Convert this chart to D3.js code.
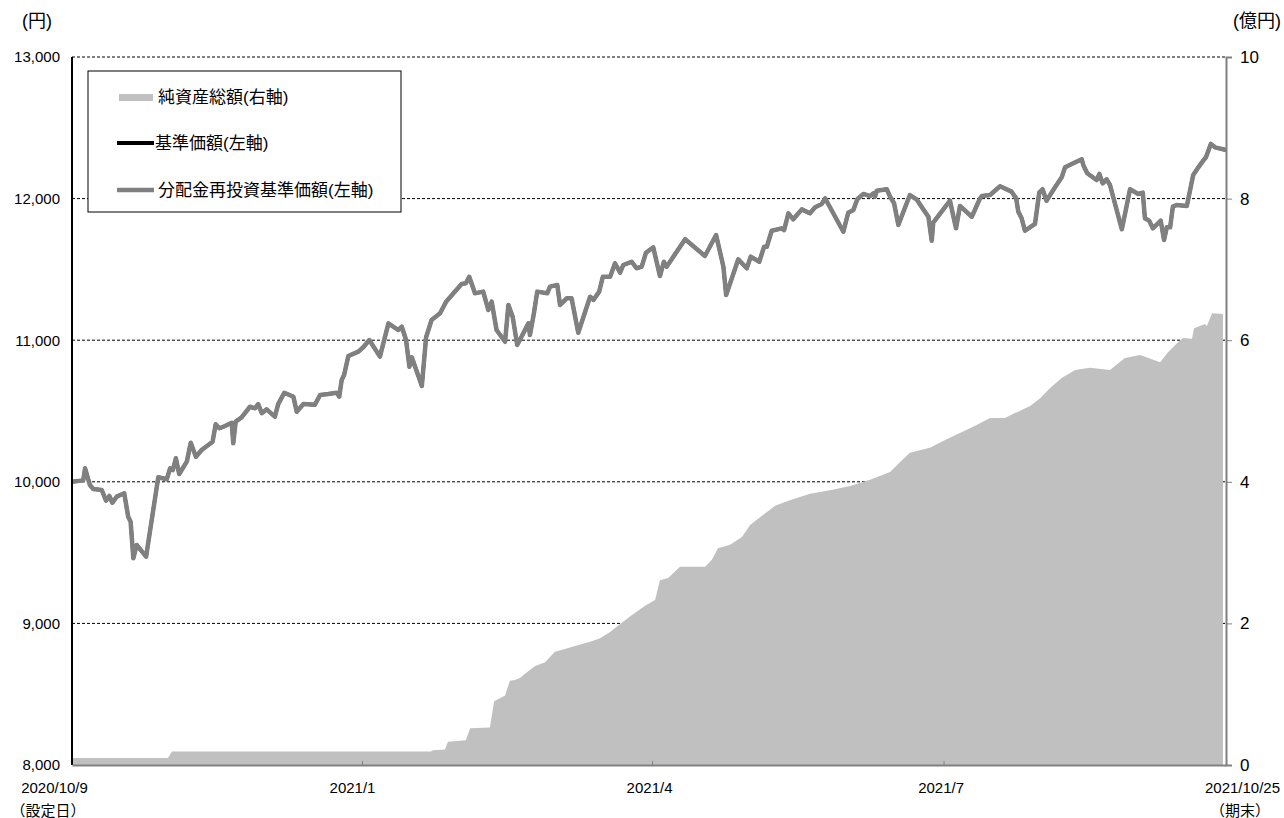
<!DOCTYPE html>
<html>
<head>
<meta charset="utf-8">
<script src="https://cdn.jsdelivr.net/npm/d3@7"></script>
<style>
  body { margin: 0; background: #fff; }
  text { font-family: "Liberation Sans", Arial, "Noto Sans CJK JP", sans-serif; fill: #000; }
</style>
</head>
<body>
<div class="chart"></div>
<script>
// dimensions
var svgWidth = 1284;
var svgHeight = 818;

var margin = {
  top: 57,
  right: 58,
  bottom: 53,
  left: 72
};

var width = svgWidth - margin.left - margin.right;
var height = svgHeight - margin.top - margin.bottom;

// data (x = business day count since launch)
var navDay = [0, 3.7, 4.3, 5.9, 7.0, 9.8, 11.2, 12.3, 13.3, 14.7, 17.2, 18.5, 19.3, 20.2, 21.3, 24.4,
  28.4, 31.2, 32.3, 33.2, 34.2, 35.3, 37.8, 39.1, 40.8, 42.7, 46.3, 47.3, 48.5, 50.4, 52.6, 53.1,
  53.9, 55.9, 58.6, 60.3, 61.3, 62.5, 64.1, 66.8, 67.9, 69.9, 72.9, 74.0, 76.2, 80.0, 81.7, 84.4,
  87.2, 88.0, 88.8, 89.6, 91.0, 94.3, 95.9, 97.9, 101.4, 104.2, 107.4, 108.6, 110.0, 111.1, 111.9,
  115.2, 116.6, 118.4, 121.2, 123.2, 125.6, 128.3, 129.7, 130.8, 132.7, 135.4, 137.1, 138.2, 139.8,
  142.6, 143.7, 145.1, 146.6, 150.3, 150.8, 152.1, 153.2, 156.5, 157.4, 159.8, 160.7, 162.9, 164.5,
  166.7, 170.6, 171.7, 173.6, 174.8, 177.2, 178.8, 180.5, 181.5, 184.3, 185.9, 187.6, 189.0, 191.4,
  193.6, 194.9, 195.8, 201.9, 208.4, 212.1, 214.5, 215.4, 219.4, 222.2, 223.5, 226.3, 227.9, 228.8,
  230.4, 233.7, 234.5, 235.9, 237.5, 240.3, 243.0, 244.7, 246.9, 248.0, 249.6, 254.0, 255.6, 257.3,
  258.6, 260.6, 262.8, 263.9, 264.4, 265.0, 268.3, 269.4, 270.7, 272.1, 275.9, 278.1, 280.3, 282.0,
  283.1, 283.6, 289.1, 291.1, 292.4, 296.3, 299.0, 299.6, 302.3, 305.6, 309.4, 310.9, 311.6, 312.7,
  313.8, 317.1, 318.5, 319.6, 320.9, 323.7, 325.9, 327.0, 329.2, 332.5, 333.0, 334.3, 337.4, 338.3,
  339.4, 340.7, 341.8, 345.7, 348.4, 351.1, 352.6, 353.3, 354.7, 355.9, 358.5, 359.6, 360.5, 361.6,
  362.5, 363.8, 367.1, 369.2, 370.9, 372.5, 373.4, 375.0, 376.4, 380];

var navValue = [10000, 10010, 10095, 9977, 9949, 9942, 9867, 9900, 9852, 9895, 9919, 9754, 9718, 9460, 9554, 9471,
  10032, 10018, 10095, 10083, 10166, 10055, 10142, 10276, 10177, 10225, 10283, 10406, 10378, 10394, 10417, 10272,
  10425, 10456, 10530, 10519, 10549, 10484, 10512, 10460, 10549, 10629, 10601, 10495, 10549, 10545, 10613, 10620,
  10629, 10601, 10719, 10754, 10888, 10919, 10950, 11001, 10884, 11119, 11072, 11095, 11001, 10813, 10879,
  10677, 11021, 11143, 11190, 11272, 11331, 11397, 11402, 11448, 11331, 11343, 11213, 11272, 11072,
  10989, 11249, 11166, 10966, 11119, 11037, 11190, 11343, 11331, 11378, 11390, 11249, 11296, 11296,
  11053, 11307, 11284, 11343, 11448, 11448, 11543, 11477, 11531, 11554, 11508, 11519, 11618, 11656,
  11453, 11554, 11519, 11713, 11595, 11743, 11519, 11319, 11571, 11508, 11590, 11554, 11660, 11660,
  11773, 11790, 11778, 11896, 11854, 11924, 11896, 11939, 11962, 12002, 11939, 11766, 11900, 11920,
  11995, 12033, 12018, 12037, 12013, 12056, 12066, 12013, 11967, 11814, 12025, 11995, 11924, 11872,
  11703, 11830, 11985, 11790, 11948, 11872, 12002, 12018, 12025, 12087, 12049, 12002, 11908, 11861,
  11773, 11821, 12042, 12066, 11985, 12080, 12150, 12221, 12244, 12278, 12237, 12179, 12131, 12174,
  12108, 12136, 12096, 11783, 12066, 12033, 12042, 11861, 11844, 11790, 11844, 11708, 11797, 11797,
  11943, 11955, 11948, 12167, 12221, 12268, 12292, 12386, 12362, 12343];

// 純資産総額 (億円)
var aumDay = [0, 31.6, 32.9, 118.2, 118.9, 122.8, 123.8, 129.7, 131.1, 137.6, 139.0, 142.6, 144.2, 145.9,
  147.5, 149.8, 152.5, 155.8, 159.0, 162.3, 165.6, 170.6, 173.9, 177.2, 180.5, 184.4, 188.7, 192.0,
  193.6, 196.3, 200.2, 208.5, 210.7, 212.7, 216.7, 220.6, 223.3, 227.2, 231.5, 236.4, 243.0, 249.6,
  256.2, 262.8, 269.4, 272.7, 275.9, 282.5, 287.5, 292.4, 297.4, 302.3, 307.2, 310.5, 315.5, 318.8,
  322.0, 326.0, 330.3, 335.2, 341.8, 346.7, 351.7, 358.3, 360.9, 364.2, 365.8, 368.8, 369.5, 373.1,
  373.7, 375.4, 379];
var aumValue = [0.10, 0.10, 0.19, 0.19, 0.21, 0.22, 0.33, 0.35, 0.52, 0.53, 0.90, 0.98, 1.19, 1.20,
  1.23, 1.31, 1.40, 1.45, 1.60, 1.64, 1.68, 1.74, 1.79, 1.88, 1.99, 2.12, 2.25, 2.33,
  2.61, 2.64, 2.80, 2.80, 2.90, 3.06, 3.11, 3.22, 3.39, 3.52, 3.66, 3.74, 3.83, 3.88,
  3.94, 4.03, 4.14, 4.28, 4.41, 4.48, 4.59, 4.69, 4.79, 4.90, 4.90, 4.97, 5.07, 5.18,
  5.32, 5.47, 5.58, 5.61, 5.58, 5.75, 5.79, 5.69, 5.83, 5.97, 6.03, 6.02, 6.17, 6.23,
  6.20, 6.38, 6.37];

var leftTicks = [8000, 9000, 10000, 11000, 12000, 13000];
var rightTicks = [0, 2, 4, 6, 8, 10];
var xTickDays = [0, 95.5, 191, 287, 380];
var xTickLabels = ["2020/10/9", "2021/1", "2021/4", "2021/7", "2021/10/25"];

var seriesNames = ["純資産総額(右軸)", "基準価額(左軸)", "分配金再投資基準価額(左軸)"];

var navData = navDay.map(function(d, i) { return { day: d, value: navValue[i] }; });
var aumData = aumDay.map(function(d, i) { return { day: d, value: aumValue[i] }; });

var svg = d3.select(".chart")
  .append("svg")
  .attr("width", svgWidth)
  .attr("height", svgHeight);

var chartGroup = svg.append("g")
  .attr("transform", `translate(${margin.left}, ${margin.top})`);

var xScale = d3.scaleLinear().domain([0, 380]).range([0, width]);
var yLeft = d3.scaleLinear().domain([8000, 13000]).range([height, 0]);
var yRight = d3.scaleLinear().domain([0, 10]).range([height, 0]);

// gridlines
chartGroup.selectAll(".grid")
  .data(leftTicks.slice(1))
  .enter()
  .append("line")
  .attr("x1", 0)
  .attr("x2", width)
  .attr("y1", d => yLeft(d))
  .attr("y2", d => yLeft(d))
  .attr("stroke", "#000")
  .attr("stroke-width", 1)
  .attr("stroke-dasharray", "3,2");

// net assets area
var area = d3.area()
  .x(d => xScale(d.day))
  .y0(height)
  .y1(d => yRight(d.value));

chartGroup.append("path")
  .datum(aumData)
  .attr("d", area)
  .attr("fill", "#c0c0c0");

// NAV lines (both identical, no distributions)
var line = d3.line()
  .x(d => xScale(d.day))
  .y(d => yLeft(d.value));

chartGroup.append("path")
  .datum(navData)
  .attr("d", line)
  .attr("fill", "none")
  .attr("stroke", "#000")
  .attr("stroke-width", 3.5)
  .attr("stroke-linejoin", "round");

chartGroup.append("path")
  .datum(navData)
  .attr("d", line)
  .attr("fill", "none")
  .attr("stroke", "#808080")
  .attr("stroke-width", 4.5)
  .attr("stroke-linejoin", "round");

// left axis
var leftAxis = d3.axisLeft(yLeft)
  .tickValues(leftTicks)
  .tickFormat(d3.format(","))
  .tickSize(0)
  .tickPadding(12);

var gl = chartGroup.append("g").call(leftAxis);
gl.select(".domain").remove();
gl.selectAll("text").style("font-size", "15px").attr("fill", "#000");

chartGroup.append("line")
  .attr("x1", 0).attr("x2", 0)
  .attr("y1", 0).attr("y2", height)
  .attr("stroke", "#000")
  .attr("stroke-width", 2);

// right axis
var rightAxis = d3.axisRight(yRight)
  .tickValues(rightTicks)
  .tickSize(6)
  .tickPadding(8);

var gr = chartGroup.append("g")
  .attr("transform", `translate(${width}, 0)`)
  .call(rightAxis);
gr.select(".domain").attr("stroke", "#808080").attr("stroke-width", 2);
gr.selectAll(".tick line").attr("stroke", "#808080");
gr.selectAll("text").style("font-size", "17px").attr("fill", "#000");

// bottom axis
var bottomAxis = d3.axisBottom(xScale)
  .tickValues(xTickDays)
  .tickFormat((d, i) => xTickLabels[i])
  .tickSizeInner(-4)
  .tickSizeOuter(0)
  .tickPadding(17);

var gb = chartGroup.append("g")
  .attr("transform", `translate(0, ${height})`)
  .call(bottomAxis);
gb.select(".domain").attr("stroke", "#808080").attr("stroke-width", 2);
gb.selectAll(".tick line").attr("stroke", "#808080");
gb.selectAll("text").style("font-size", "15px").attr("fill", "#000");
gb.selectAll(".tick").filter((d, i) => i === 0 || i === xTickDays.length - 1)
  .select("line").remove();
gb.selectAll(".tick text").filter((d, i) => i === 1).attr("x", -10);
gb.selectAll(".tick text").filter((d, i) => i === 2).attr("x", -3);
gb.selectAll(".tick text").filter((d, i) => i === 3).attr("x", -3);
gb.selectAll(".tick text").filter((d, i) => i === 0).attr("x", -18);
gb.selectAll(".tick text").filter((d, i) => i === xTickDays.length - 1).attr("x", 16);

// sub labels
chartGroup.append("text")
  .attr("x", -24)
  .attr("y", height + 51)
  .attr("text-anchor", "middle")
  .style("font-size", "15px")
  .text("（設定日）");

chartGroup.append("text")
  .attr("x", width + 14)
  .attr("y", height + 51)
  .attr("text-anchor", "middle")
  .style("font-size", "15px")
  .text("（期末）");

// unit labels
svg.append("text")
  .attr("x", 22)
  .attr("y", 27)
  .style("font-size", "18px")
  .text("(円)");

svg.append("text")
  .attr("x", 1281)
  .attr("y", 27)
  .attr("text-anchor", "end")
  .style("font-size", "18px")
  .text("(億円)");

// legend
var legend = svg.append("g");

legend.append("rect")
  .attr("x", 88)
  .attr("y", 71)
  .attr("width", 313)
  .attr("height", 141)
  .attr("fill", "#fff")
  .attr("stroke", "#000")
  .attr("stroke-width", 1);

var legendY = [97, 143, 190];

legend.append("rect")
  .attr("x", 119).attr("y", legendY[0] - 3)
  .attr("width", 34).attr("height", 7)
  .attr("fill", "#c0c0c0");

legend.append("line")
  .attr("x1", 117).attr("x2", 154)
  .attr("y1", legendY[1]).attr("y2", legendY[1])
  .attr("stroke", "#000").attr("stroke-width", 4);

legend.append("line")
  .attr("x1", 117).attr("x2", 154)
  .attr("y1", legendY[2]).attr("y2", legendY[2])
  .attr("stroke", "#808080").attr("stroke-width", 4.5);

legend.selectAll(".legtext")
  .data(seriesNames)
  .enter()
  .append("text")
  .attr("x", (d, i) => i === 1 ? 155 : 158)
  .attr("y", (d, i) => legendY[i])
  .attr("dy", "0.35em")
  .style("font-size", "17px")
  .text(d => d);
</script>
</body>
</html>
